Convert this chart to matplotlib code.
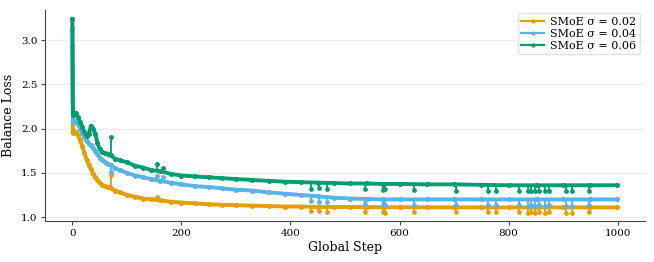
# -*- coding: utf-8 -*-

import numpy as np
import matplotlib
matplotlib.use('Agg')
import matplotlib.pyplot as plt

# shared global steps for the main curves
steps = [0, 1, 3, 6, 10, 14, 18, 22, 26, 30, 34, 38, 42, 46, 50, 55, 60, 65,
         70, 78, 88, 100, 115, 130, 145, 160, 180, 200, 225, 250, 275, 300,
         330, 360, 390, 420, 450, 480, 510, 540, 570, 600, 650, 700, 750,
         800, 850, 900, 950, 999]

loss_002 = [2.92, 1.95, 1.97, 1.96, 1.93, 1.87, 1.80, 1.73, 1.65, 1.59, 1.54,
            1.49, 1.45, 1.42, 1.39, 1.36, 1.35, 1.34, 1.33, 1.30, 1.28, 1.25,
            1.23, 1.21, 1.20, 1.19, 1.175, 1.165, 1.155, 1.145, 1.14, 1.135,
            1.13, 1.125, 1.12, 1.12, 1.115, 1.115, 1.115, 1.113, 1.112, 1.112,
            1.111, 1.11, 1.11, 1.11, 1.11, 1.11, 1.11, 1.11]

loss_004 = [3.13, 2.08, 2.09, 2.08, 2.05, 2.00, 1.95, 1.90, 1.86, 1.83, 1.81,
            1.78, 1.75, 1.71, 1.67, 1.64, 1.62, 1.60, 1.59, 1.55, 1.53, 1.50,
            1.47, 1.45, 1.43, 1.41, 1.39, 1.37, 1.35, 1.34, 1.325, 1.31,
            1.30, 1.28, 1.265, 1.25, 1.235, 1.22, 1.21, 1.205, 1.20, 1.20,
            1.20, 1.20, 1.20, 1.20, 1.20, 1.20, 1.20, 1.20]

loss_006 = [3.24, 2.15, 2.17, 2.18, 2.13, 2.08, 2.02, 1.96, 1.92, 1.94, 2.03,
            2.00, 1.94, 1.84, 1.77, 1.74, 1.72, 1.71, 1.70, 1.66, 1.64, 1.62,
            1.58, 1.56, 1.53, 1.52, 1.49, 1.47, 1.46, 1.45, 1.44, 1.43,
            1.42, 1.41, 1.40, 1.395, 1.39, 1.385, 1.38, 1.38, 1.375, 1.375,
            1.37, 1.37, 1.365, 1.36, 1.36, 1.36, 1.36, 1.36]

# isolated spikes (up or down) on top of the main curves
spike_steps_002 = [70, 155]
spike_base_002 = [1.33, 1.195]
spike_tip_002 = [1.48, 1.23]

spike_steps_004 = [70, 155, 167]
spike_base_004 = [1.59, 1.42, 1.41]
spike_tip_004 = [1.51, 1.47, 1.45]

spike_steps_006 = [70, 155, 167]
spike_base_006 = [1.70, 1.525, 1.515]
spike_tip_006 = [1.91, 1.60, 1.56]

# downward dips shared by the three runs in the late phase
dip_steps = [437, 452, 467, 536, 569, 574, 626, 704, 763, 777, 820, 836, 841,
             848, 855, 866, 874, 906, 916, 947]
dip_base_002 = [1.118, 1.116, 1.116, 1.114, 1.112, 1.112, 1.111, 1.11, 1.11,
                1.11, 1.11, 1.11, 1.11, 1.11, 1.11, 1.11, 1.11, 1.11, 1.11, 1.11]
dip_tip_002 = [1.07, 1.07, 1.06, 1.06, 1.06, 1.05, 1.06, 1.06, 1.06, 1.06,
               1.06, 1.05, 1.06, 1.05, 1.06, 1.05, 1.06, 1.05, 1.05, 1.06]
dip_base_004 = [1.245, 1.238, 1.232, 1.207, 1.20, 1.20, 1.20, 1.20, 1.20,
                1.20, 1.20, 1.20, 1.20, 1.20, 1.20, 1.20, 1.20, 1.20, 1.20, 1.20]
dip_tip_004 = [1.18, 1.17, 1.17, 1.15, 1.14, 1.14, 1.14, 1.14, 1.14, 1.14,
               1.14, 1.13, 1.14, 1.13, 1.14, 1.13, 1.14, 1.13, 1.13, 1.14]
dip_base_006 = [1.392, 1.39, 1.388, 1.38, 1.376, 1.376, 1.373, 1.37, 1.366,
                1.365, 1.362, 1.36, 1.36, 1.36, 1.36, 1.36, 1.36, 1.36, 1.36, 1.36]
dip_tip_006 = [1.32, 1.33, 1.32, 1.32, 1.31, 1.32, 1.31, 1.30, 1.30, 1.30,
               1.30, 1.29, 1.30, 1.29, 1.29, 1.29, 1.29, 1.29, 1.29, 1.30]

labels = ['SMoE σ = 0.02', 'SMoE σ = 0.04', 'SMoE σ = 0.06']
colors = ['#E69F00', '#56B4E9', '#009E73']

plt.rcParams['font.family'] = ['DejaVu Serif']

fig = plt.figure(figsize=(6.54, 2.62), dpi=100)
ax = fig.add_axes([0.069, 0.156, 0.917, 0.806])

series = [
    (loss_002, spike_steps_002, spike_base_002, spike_tip_002, dip_base_002, dip_tip_002),
    (loss_004, spike_steps_004, spike_base_004, spike_tip_004, dip_base_004, dip_tip_004),
    (loss_006, spike_steps_006, spike_base_006, spike_tip_006, dip_base_006, dip_tip_006),
]

for i, (vals, sp_x, sp_b, sp_t, d_b, d_t) in enumerate(series):
    c = colors[i]
    z = 2 + i
    ax.plot(steps, vals, color=c, lw=2.8, marker='o', ms=2.6,
            label=labels[i], zorder=z)
    ax.vlines(sp_x, sp_b, sp_t, color=c, lw=1.3, zorder=z)
    ax.plot(sp_x, sp_t, 'o', color=c, ms=2.5, zorder=z)
    ax.vlines(dip_steps, d_b, d_t, color=c, lw=1.3, zorder=z)
    ax.plot(dip_steps, d_t, 'o', color=c, ms=2.4, zorder=z)

ax.set_xlim(-50, 1050)
ax.set_ylim(0.955, 3.34)
ax.set_yticks([1.0, 1.5, 2.0, 2.5, 3.0])
ax.set_xticks([0, 200, 400, 600, 800, 1000])
ax.grid(axis='y', color='#ebebeb', lw=0.8)
ax.set_axisbelow(True)
for side in ['top', 'right']:
    ax.spines[side].set_visible(False)
for side in ['left', 'bottom']:
    ax.spines[side].set_color('#444444')
ax.tick_params(labelsize=7.5, length=3, color='#444444', pad=2.5)
ax.set_xlabel('Global Step', fontsize=9, labelpad=2)
ax.set_ylabel('Balance Loss', fontsize=9, labelpad=4)

leg = ax.legend(loc='upper right', fontsize=8, frameon=True,
                handlelength=2.0, borderaxespad=0.3, labelspacing=0.15,
                handletextpad=0.6, borderpad=0.35,
                bbox_to_anchor=(0.998, 1.0))
leg.get_frame().set_edgecolor('#dddddd')
for h in leg.legend_handles:
    h.set_linewidth(1.6)
    h.set_markersize(2.0)

fig.savefig('out.png', dpi=100)
